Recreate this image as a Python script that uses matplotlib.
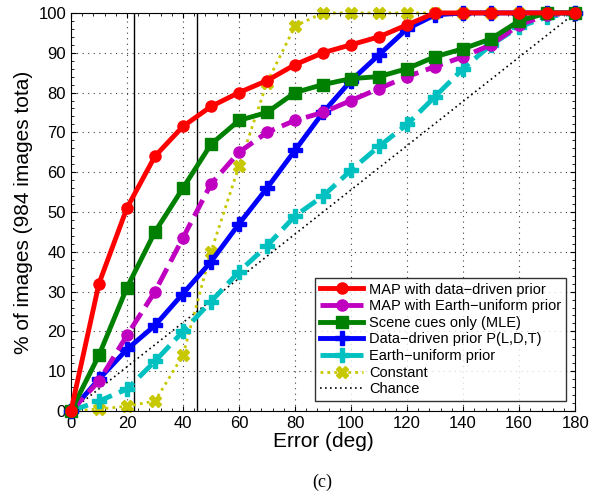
import matplotlib
matplotlib.use("Agg")
import matplotlib.pyplot as plt
from matplotlib.ticker import MultipleLocator

plt.rcParams['font.family'] = ['Liberation Sans', 'DejaVu Sans']

err = [0, 10, 20, 30, 40, 50, 60, 70, 80, 90, 100, 110, 120, 130, 140, 150, 160, 170, 180]

map_data = [0, 32, 51, 64, 71.5, 76.5, 80, 83, 87, 90, 92, 94, 97, 100, 100, 100, 100, 100, 100]
map_earth = [0, 7.5, 19, 30, 43.5, 57, 65, 70, 73, 75, 78, 81, 84, 86.5, 89, 92, 97, 99.5, 100]
scene = [0, 14, 31, 45, 56, 67, 73, 75, 80, 82, 83.5, 84, 86, 89, 91, 93.5, 98, 100, 100]
data_prior = [0, 8, 15.5, 21.5, 29.5, 37.5, 47, 56, 65.5, 75, 83, 89.5, 96, 99.5, 100, 100, 100, 100, 100]
earth_prior = [0, 2.5, 5.5, 12.5, 20, 27.5, 35, 41.5, 49, 54, 60.5, 66.5, 72, 79, 86, 92, 96.5, 99, 100]
constant = [0, 0.5, 1.2, 2.5, 14, 40, 61.5, 82.5, 96.7, 100, 100, 100, 100, 100, 100, 100, 100, 100, 100]
chance = [e / 1.8 for e in err]

thresholds = [22.5, 45]

fig = plt.figure(figsize=(5.96, 4.97), dpi=100)
ax = fig.add_axes([0.119, 0.173, 0.846, 0.801])

for t in thresholds:
    ax.axvline(t, color='black', lw=1.0, zorder=1)

ax.plot(err, chance, color='black', ls=(0, (1, 2)), lw=1.2, label='Chance', zorder=2)
ax.plot(err, constant, color='#c8c800', ls=(0, (1, 1.5)), lw=2.0, marker='X', ms=8,
        label='Constant', zorder=2, clip_on=False)
ax.plot(err, earth_prior, color='#00c0c0', ls='--', lw=3.5, marker='P', ms=10,
        label='Earth\u2212uniform prior', zorder=3, clip_on=False)
ax.plot(err, data_prior, color='#0000ff', ls='-', lw=3.5, marker='P', ms=10,
        label='Data\u2212driven prior P(L,D,T)', zorder=4, clip_on=False)
ax.plot(err, scene, color='#008000', ls='-', lw=3.5, marker='s', ms=8,
        label='Scene cues only (MLE)', zorder=5, clip_on=False)
ax.plot(err, map_earth, color='#c000c0', ls='--', lw=3.5, marker='o', ms=8,
        label='MAP with Earth\u2212uniform prior', zorder=4, clip_on=False)
ax.plot(err, map_data, color='#ff0000', ls='-', lw=3.5, marker='o', ms=8,
        label='MAP with data\u2212driven prior', zorder=6, clip_on=False)

ax.set_xlim(0, 180)
ax.set_ylim(0, 100)
ax.xaxis.set_major_locator(MultipleLocator(20))
ax.yaxis.set_major_locator(MultipleLocator(10))
ax.xaxis.set_minor_locator(MultipleLocator(4))
ax.yaxis.set_minor_locator(MultipleLocator(2))
ax.tick_params(which='both', direction='in', top=True, right=True, labelsize=12)
ax.tick_params(which='minor', length=2)
ax.grid(True, which='major', color='#404040', ls=(0, (1, 4)), lw=0.8)

ax.set_xlabel('Error (deg)', fontsize=15, labelpad=1)
ax.set_ylabel('% of images (984 images tota)', fontsize=15, labelpad=4)

handles, labels = ax.get_legend_handles_labels()
order = [6, 5, 4, 3, 2, 1, 0]
leg = ax.legend([handles[i] for i in order], [labels[i] for i in order],
                loc='lower right', fontsize=10.5, frameon=True, fancybox=False,
                edgecolor='black', handlelength=3.0, handletextpad=0.4,
                labelspacing=0.18, borderpad=0.3, borderaxespad=0.3,
                bbox_to_anchor=(0.99, 0.015))
leg.get_frame().set_linewidth(1.0)
leg.set_zorder(10)

fig.text(0.54, 0.03, '(c)', ha='center', va='center', fontsize=13,
         family=['Liberation Serif', 'DejaVu Serif'])

fig.savefig('out.png', dpi=100)
